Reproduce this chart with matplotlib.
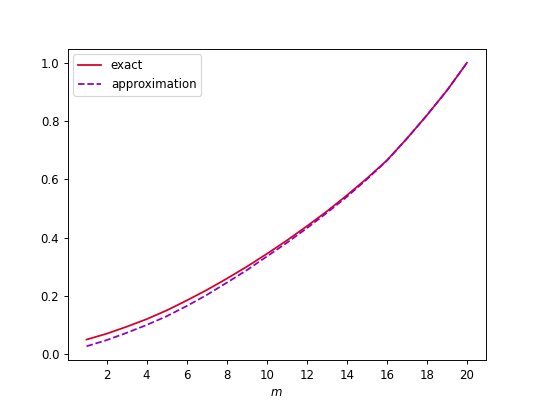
import matplotlib
matplotlib.use("Agg")
import matplotlib.pyplot as plt

m = list(range(1, 21))
exact = [0.050, 0.070, 0.094, 0.120, 0.150, 0.184, 0.220, 0.259, 0.300, 0.344,
         0.390, 0.439, 0.490, 0.545, 0.603, 0.665, 0.740, 0.820, 0.905, 1.000]
approx = [0.027, 0.048, 0.073, 0.100, 0.130, 0.165, 0.203, 0.245, 0.288, 0.335,
          0.382, 0.432, 0.485, 0.540, 0.600, 0.664, 0.740, 0.820, 0.905, 1.000]

fig, ax = plt.subplots(figsize=(6.4, 4.8), dpi=84.375)
ax.plot(m, exact, color="#d6002a", label="exact")
ax.plot(m, approx, color="#9400b8", linestyle="--", label="approximation")
ax.set_xticks(range(2, 21, 2))
ax.set_xlabel("$m$")
ax.legend(loc="upper left")
fig.savefig("out.png")
